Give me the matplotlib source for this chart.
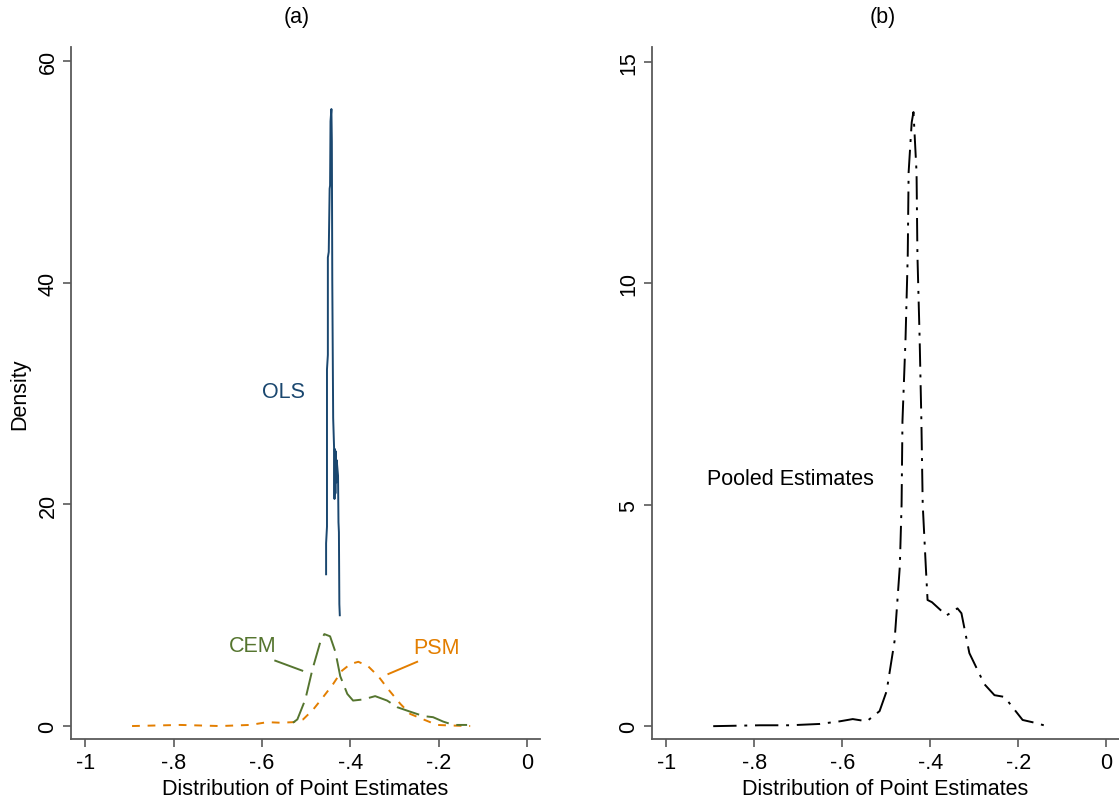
import numpy as np
import matplotlib
matplotlib.use("Agg")
import matplotlib.pyplot as plt

plt.rcParams["font.family"] = ["Liberation Sans", "DejaVu Sans"]

# panel (a): kernel densities by estimator
ols_x = [-0.455, -0.455, -0.453, -0.453, -0.451, -0.451, -0.449, -0.447, -0.446,
         -0.445, -0.443, -0.442, -0.441, -0.439, -0.437, -0.436, -0.435, -0.434,
         -0.433, -0.432, -0.431, -0.428, -0.427, -0.426, -0.425, -0.424]
ols_y = [13.7, 16.5, 18.0, 32.2, 33.5, 42.3, 42.8, 48.5, 48.8,
         54.6, 55.7, 52.8, 40.2, 27.8, 25.2, 20.5, 25.0, 21.0,
         24.8, 22.0, 24.0, 22.6, 18.4, 17.5, 11.0, 10.0]

cem_x = [-0.530, -0.520, -0.502, -0.486, -0.468, -0.459, -0.446, -0.434, -0.423,
         -0.407, -0.394, -0.371, -0.344, -0.317, -0.294, -0.265, -0.235, -0.213,
         -0.190, -0.167, -0.136]
cem_y = [0.3, 0.6, 2.4, 5.1, 7.6, 8.3, 8.1, 6.7, 4.5,
         2.9, 2.3, 2.4, 2.7, 2.3, 1.7, 1.3, 0.9, 0.8,
         0.4, 0.1, 0.1]

psm_x = [-0.894, -0.785, -0.695, -0.627, -0.588, -0.559, -0.529, -0.507, -0.484,
         -0.462, -0.439, -0.419, -0.400, -0.382, -0.360, -0.337, -0.314, -0.287,
         -0.265, -0.235, -0.204, -0.174, -0.129]
psm_y = [0.0, 0.1, 0.0, 0.1, 0.35, 0.3, 0.35, 0.6, 1.5,
         2.6, 3.8, 5.0, 5.6, 5.8, 5.4, 4.5, 3.3, 2.0,
         1.1, 0.6, 0.1, 0.05, 0.0]

# panel (b): pooled estimates
pool_x = [-0.893, -0.787, -0.719, -0.651, -0.605, -0.576, -0.544, -0.515, -0.499,
          -0.481, -0.469, -0.465, -0.463, -0.456, -0.451, -0.449, -0.442, -0.438,
          -0.431, -0.429, -0.424, -0.420, -0.417, -0.410, -0.406, -0.396, -0.385,
          -0.363, -0.338, -0.329, -0.311, -0.277, -0.254, -0.231, -0.213, -0.190,
          -0.168, -0.134]
pool_y = [0.0, 0.02, 0.02, 0.05, 0.11, 0.16, 0.11, 0.34, 0.79,
          1.92, 3.61, 5.01, 6.89, 8.76, 10.64, 12.51, 13.64, 13.87,
          12.51, 10.64, 8.76, 6.89, 5.01, 3.61, 2.85, 2.80, 2.70,
          2.50, 2.66, 2.55, 1.65, 0.95, 0.70, 0.66, 0.43, 0.14,
          0.09, 0.0]

x_ticks = [-1, -0.8, -0.6, -0.4, -0.2, 0]
x_labels = ["-1", "-.8", "-.6", "-.4", "-.2", "0"]

navy = "#1a476f"
green = "#55752f"
orange = "#e37e00"
axis_grey = "#5a5a5a"
fs = 15.5

fig = plt.figure(figsize=(11.19, 8.04), dpi=100)
ax1 = fig.add_axes([0.0635, 0.0796, 0.4191, 0.8607])
ax2 = fig.add_axes([0.5827, 0.0796, 0.4173, 0.8607])


def style_axis(ax):
    for s in ["top", "right"]:
        ax.spines[s].set_visible(False)
    for s in ["left", "bottom"]:
        ax.spines[s].set_color(axis_grey)
        ax.spines[s].set_linewidth(1.3)
    ax.tick_params(direction="out", length=6, width=1.2, color=axis_grey,
                   labelsize=fs, pad=3)
    ax.set_xticks(x_ticks)
    ax.set_xticklabels(x_labels)
    ax.set_xlim(-1.032, 0.029)
    for lab in ax.get_yticklabels():
        lab.set_rotation(90)
        lab.set_va("center")
    ax.set_xlabel("Distribution of Point Estimates", fontsize=fs, labelpad=4)


# (a)
ax1.plot(psm_x, psm_y, color=orange, lw=1.4, dashes=(4, 4))
ax1.plot(cem_x, cem_y, color=green, lw=1.4, dashes=(12, 4))
ax1.plot(ols_x, ols_y, color=navy, lw=1.4)
ax1.set_ylim(-1.17, 61.3)
ax1.set_yticks([0, 20, 40, 60])
ax1.set_ylabel("Density", fontsize=fs, labelpad=5)
style_axis(ax1)
ax1.text(-0.552, 30.2, "OLS", color=navy, fontsize=fs, ha="center", va="center")
ax1.text(-0.620, 7.3, "CEM", color=green, fontsize=fs, ha="center", va="center")
ax1.text(-0.206, 7.1, "PSM", color=orange, fontsize=fs, ha="center", va="center")
ax1.plot([-0.570, -0.509], [5.9, 5.0], color=green, lw=1.4)
ax1.plot([-0.249, -0.314], [5.8, 4.7], color=orange, lw=1.4)

# (b)
ax2.plot(pool_x, pool_y, color="black", lw=1.4, dashes=(12, 4, 1.5, 4))
ax2.set_ylim(-0.29, 15.34)
ax2.set_yticks([0, 5, 10, 15])
style_axis(ax2)
ax2.text(-0.907, 5.6, "Pooled Estimates", color="black", fontsize=fs,
         ha="left", va="center")

fig.text(297 / 1119, 1 - 17 / 804, "(a)", fontsize=fs, ha="center", va="center")
fig.text(883 / 1119, 1 - 17 / 804, "(b)", fontsize=fs, ha="center", va="center")

fig.savefig("out.png", dpi=100, facecolor="white")
